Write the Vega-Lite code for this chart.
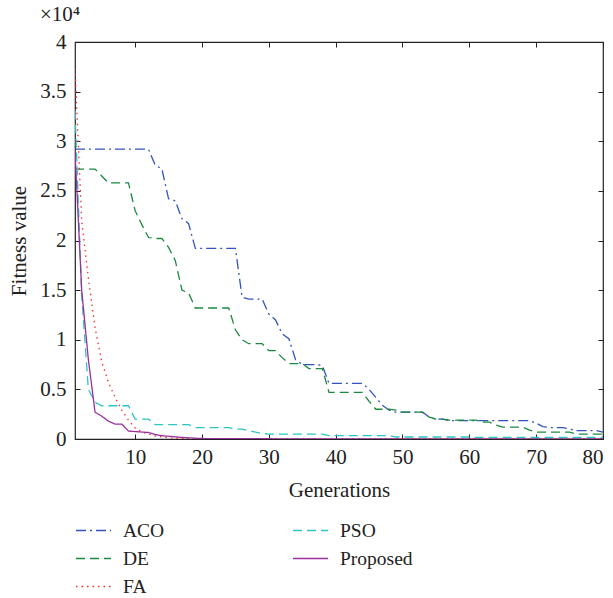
{
"$schema":"https://vega.github.io/schema/vega-lite/v6.json",
"width":528,"height":397,
"autosize":{"type":"none"},
"padding":{"left":75,"top":42,"right":10,"bottom":159},
"title":{"text":"×10⁴","anchor":"start","frame":"group","dx":-35,"offset":6,"fontSize":21,"fontWeight":"normal","font":"Liberation Serif","color":"#222"},
"data":{"values":[
{"g":1,"ACO":29200,"DE":27200,"FA":37300,"PSO":33100,"Proposed":29000},
{"g":2,"ACO":29200,"DE":27200,"FA":22000,"PSO":14500,"Proposed":15000},
{"g":3,"ACO":29200,"DE":27200,"FA":16200,"PSO":5000,"Proposed":8000},
{"g":4,"ACO":29200,"DE":27200,"FA":11200,"PSO":3700,"Proposed":2700},
{"g":5,"ACO":29200,"DE":26500,"FA":7800,"PSO":3350,"Proposed":2300},
{"g":6,"ACO":29200,"DE":25800,"FA":5700,"PSO":3350,"Proposed":1800},
{"g":7,"ACO":29200,"DE":25800,"FA":4200,"PSO":3350,"Proposed":1500},
{"g":8,"ACO":29200,"DE":25800,"FA":2900,"PSO":3350,"Proposed":1500},
{"g":9,"ACO":29200,"DE":25800,"FA":1900,"PSO":3350,"Proposed":800},
{"g":10,"ACO":29200,"DE":23000,"FA":1100,"PSO":2000,"Proposed":750},
{"g":11,"ACO":29200,"DE":21600,"FA":700,"PSO":2000,"Proposed":700},
{"g":12,"ACO":29200,"DE":20300,"FA":500,"PSO":2000,"Proposed":660},
{"g":13,"ACO":27600,"DE":20200,"FA":300,"PSO":1450,"Proposed":450},
{"g":14,"ACO":27200,"DE":20200,"FA":200,"PSO":1450,"Proposed":330},
{"g":15,"ACO":24200,"DE":19300,"FA":120,"PSO":1450,"Proposed":280},
{"g":16,"ACO":24000,"DE":18000,"FA":80,"PSO":1450,"Proposed":220},
{"g":17,"ACO":22200,"DE":15000,"FA":60,"PSO":1450,"Proposed":160},
{"g":18,"ACO":21700,"DE":14700,"FA":50,"PSO":1450,"Proposed":120},
{"g":19,"ACO":19200,"DE":13200,"FA":40,"PSO":1150,"Proposed":80},
{"g":20,"ACO":19200,"DE":13200,"FA":30,"PSO":1150,"Proposed":50},
{"g":21,"ACO":19200,"DE":13200,"FA":20,"PSO":1150,"Proposed":40},
{"g":22,"ACO":19200,"DE":13200,"FA":20,"PSO":1150,"Proposed":40},
{"g":23,"ACO":19200,"DE":13200,"FA":20,"PSO":1150,"Proposed":35},
{"g":24,"ACO":19200,"DE":13200,"FA":20,"PSO":1150,"Proposed":35},
{"g":25,"ACO":19200,"DE":11000,"FA":20,"PSO":1000,"Proposed":30},
{"g":26,"ACO":14300,"DE":10000,"FA":20,"PSO":1000,"Proposed":30},
{"g":27,"ACO":14100,"DE":9600,"FA":20,"PSO":850,"Proposed":30},
{"g":28,"ACO":14100,"DE":9600,"FA":20,"PSO":700,"Proposed":30},
{"g":29,"ACO":14100,"DE":9600,"FA":20,"PSO":550,"Proposed":25},
{"g":30,"ACO":12600,"DE":8900,"FA":20,"PSO":500,"Proposed":25},
{"g":31,"ACO":12000,"DE":8900,"FA":10,"PSO":500,"Proposed":20},
{"g":32,"ACO":10600,"DE":8200,"FA":10,"PSO":500,"Proposed":20},
{"g":33,"ACO":10100,"DE":7600,"FA":10,"PSO":500,"Proposed":20},
{"g":34,"ACO":8000,"DE":7600,"FA":10,"PSO":500,"Proposed":15},
{"g":35,"ACO":7500,"DE":7600,"FA":10,"PSO":500,"Proposed":15},
{"g":36,"ACO":7500,"DE":7100,"FA":10,"PSO":500,"Proposed":15},
{"g":37,"ACO":7500,"DE":7100,"FA":10,"PSO":500,"Proposed":15},
{"g":38,"ACO":7400,"DE":7100,"FA":10,"PSO":500,"Proposed":10},
{"g":39,"ACO":5600,"DE":4700,"FA":10,"PSO":350,"Proposed":10},
{"g":40,"ACO":5600,"DE":4700,"FA":10,"PSO":350,"Proposed":10},
{"g":41,"ACO":5600,"DE":4700,"FA":10,"PSO":350,"Proposed":10},
{"g":42,"ACO":5600,"DE":4700,"FA":10,"PSO":350,"Proposed":10},
{"g":43,"ACO":5600,"DE":4700,"FA":10,"PSO":350,"Proposed":10},
{"g":44,"ACO":5600,"DE":4700,"FA":10,"PSO":350,"Proposed":10},
{"g":45,"ACO":5000,"DE":3800,"FA":10,"PSO":350,"Proposed":10},
{"g":46,"ACO":4200,"DE":3000,"FA":10,"PSO":350,"Proposed":10},
{"g":47,"ACO":3400,"DE":3000,"FA":10,"PSO":350,"Proposed":10},
{"g":48,"ACO":2900,"DE":3000,"FA":10,"PSO":350,"Proposed":10},
{"g":49,"ACO":2700,"DE":2900,"FA":10,"PSO":200,"Proposed":10},
{"g":50,"ACO":2700,"DE":2700,"FA":10,"PSO":200,"Proposed":10},
{"g":51,"ACO":2700,"DE":2700,"FA":10,"PSO":200,"Proposed":10},
{"g":52,"ACO":2700,"DE":2700,"FA":10,"PSO":200,"Proposed":10},
{"g":53,"ACO":2700,"DE":2700,"FA":10,"PSO":200,"Proposed":10},
{"g":54,"ACO":2200,"DE":2200,"FA":10,"PSO":200,"Proposed":10},
{"g":55,"ACO":2000,"DE":2000,"FA":10,"PSO":200,"Proposed":10},
{"g":56,"ACO":2000,"DE":2000,"FA":10,"PSO":200,"Proposed":10},
{"g":57,"ACO":1850,"DE":1900,"FA":10,"PSO":200,"Proposed":10},
{"g":58,"ACO":1850,"DE":1900,"FA":10,"PSO":200,"Proposed":10},
{"g":59,"ACO":1850,"DE":1900,"FA":10,"PSO":200,"Proposed":10},
{"g":60,"ACO":1850,"DE":1900,"FA":10,"PSO":200,"Proposed":10},
{"g":61,"ACO":1850,"DE":1900,"FA":10,"PSO":150,"Proposed":10},
{"g":62,"ACO":1850,"DE":1700,"FA":10,"PSO":150,"Proposed":10},
{"g":63,"ACO":1850,"DE":1700,"FA":10,"PSO":150,"Proposed":10},
{"g":64,"ACO":1850,"DE":1400,"FA":10,"PSO":150,"Proposed":10},
{"g":65,"ACO":1850,"DE":1200,"FA":10,"PSO":150,"Proposed":10},
{"g":66,"ACO":1850,"DE":1200,"FA":10,"PSO":150,"Proposed":10},
{"g":67,"ACO":1850,"DE":1200,"FA":10,"PSO":150,"Proposed":10},
{"g":68,"ACO":1850,"DE":1200,"FA":10,"PSO":150,"Proposed":10},
{"g":69,"ACO":1850,"DE":900,"FA":10,"PSO":150,"Proposed":10},
{"g":70,"ACO":1600,"DE":700,"FA":10,"PSO":150,"Proposed":10},
{"g":71,"ACO":1250,"DE":700,"FA":10,"PSO":150,"Proposed":10},
{"g":72,"ACO":1150,"DE":700,"FA":10,"PSO":150,"Proposed":10},
{"g":73,"ACO":1150,"DE":700,"FA":10,"PSO":150,"Proposed":10},
{"g":74,"ACO":1150,"DE":700,"FA":10,"PSO":150,"Proposed":10},
{"g":75,"ACO":1000,"DE":700,"FA":10,"PSO":150,"Proposed":10},
{"g":76,"ACO":850,"DE":500,"FA":10,"PSO":150,"Proposed":10},
{"g":77,"ACO":850,"DE":500,"FA":10,"PSO":150,"Proposed":10},
{"g":78,"ACO":850,"DE":500,"FA":10,"PSO":150,"Proposed":10},
{"g":79,"ACO":850,"DE":500,"FA":10,"PSO":150,"Proposed":10},
{"g":80,"ACO":700,"DE":500,"FA":10,"PSO":150,"Proposed":10}
]},
"transform":[{"fold":["ACO","DE","FA","PSO","Proposed"],"as":["Algorithm","value"]}],
"layer":[
{"mark":{"type":"line","strokeWidth":1.3,"clip":true},
 "encoding":{
  "x":{"field":"g","type":"quantitative","title":"Generations","scale":{"domain":[1,80],"nice":false,"zero":false},
       "axis":{"values":[10,20,30,40,50,60,70,80],"grid":false,"domain":false,"tickSize":-5,"tickColor":"#222","labelPadding":12,"titlePadding":12}},
  "y":{"field":"value","type":"quantitative","title":"Fitness value","scale":{"domain":[0,40000],"nice":false},
       "axis":{"values":[0,5000,10000,15000,20000,25000,30000,35000,40000],"labelExpr":"datum.value/10000","grid":false,"domain":false,"tickSize":-5,"tickColor":"#222","labelPadding":14,"titlePadding":10}},
  "color":{"field":"Algorithm","type":"nominal","scale":{"domain":["ACO","DE","FA","PSO","Proposed"],"range":["#3355bb","#1a8a40","#ff2a2a","#2ec4c4","#9b2f9b"]},
       "legend":{"title":null,"orient":"none","legendX":0,"legendY":470,"columns":2,"columnPadding":125,"rowPadding":-7.5,"symbolSize":1225,"symbolStrokeWidth":1.3,"labelOffset":11,"labelFontSize":19.5,"labelFont":"Liberation Serif","labelColor":"#222"}},
  "strokeDash":{"field":"Algorithm","type":"nominal","scale":{"domain":["ACO","DE","FA","PSO","Proposed"],"range":[[10,4,2,4],[9,5],[1.5,4],[9,5],[1,0]]},
       "legend":{"title":null,"orient":"none","legendX":0,"legendY":470,"columns":2,"columnPadding":125,"rowPadding":-7.5,"symbolSize":1225,"symbolStrokeWidth":1.3,"labelOffset":11,"labelFontSize":19.5,"labelFont":"Liberation Serif","labelColor":"#222"}}
 }},
{"mark":{"type":"line","strokeOpacity":0},
 "encoding":{
  "x":{"field":"g","type":"quantitative","scale":{"domain":[1,80],"nice":false,"zero":false},
       "axis":{"orient":"top","values":[10,20,30,40,50,60,70,80],"labels":false,"title":null,"grid":false,"domain":false,"tickSize":-5,"tickColor":"#222"}},
  "y":{"field":"value","type":"quantitative","scale":{"domain":[0,40000],"nice":false},
       "axis":{"orient":"right","values":[0,5000,10000,15000,20000,25000,30000,35000,40000],"labels":false,"title":null,"grid":false,"domain":false,"tickSize":-5,"tickColor":"#222"}},
  "detail":{"field":"Algorithm"}
 }}
],
"resolve":{"axis":{"x":"independent","y":"independent"}},
"config":{
 "font":"Liberation Serif",
 "view":{"stroke":"#222","strokeWidth":1.2},
 "axis":{"labelFontSize":21,"titleFontSize":21,"titleFontWeight":"normal","labelColor":"#222","titleColor":"#222","labelFont":"Liberation Serif","titleFont":"Liberation Serif"}
}
}
